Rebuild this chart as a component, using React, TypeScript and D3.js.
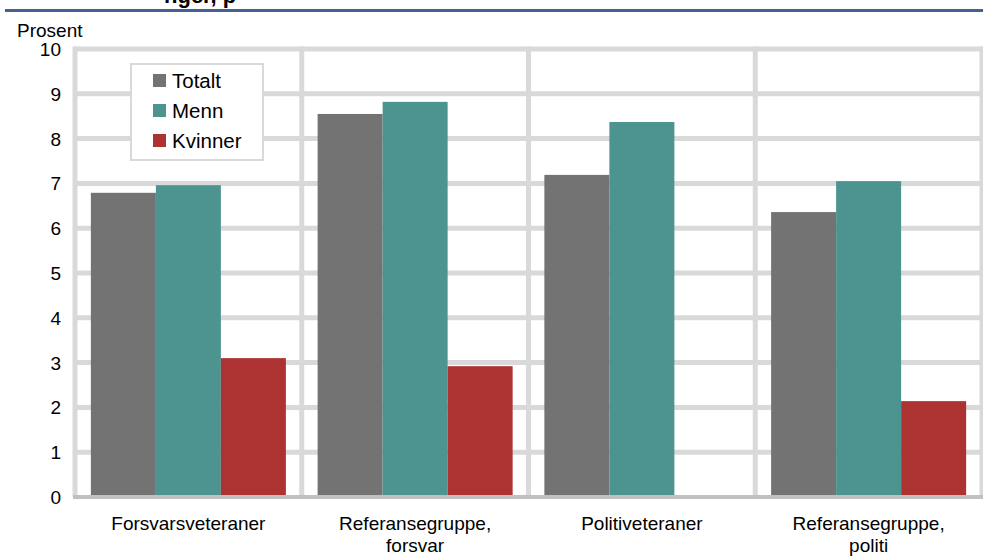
import React from "react";
import * as d3 from "d3";

const categories = [
  ["Forsvarsveteraner"],
  ["Referansegruppe,", "forsvar"],
  ["Politiveteraner"],
  ["Referansegruppe,", "politi"],
];
const seriesNames = ["Totalt", "Menn", "Kvinner"];
const totalt = [6.79, 8.55, 7.19, 6.36];
const menn = [6.96, 8.82, 8.37, 7.05];
const kvinner = [3.1, 2.92, 0, 2.14];
const yTicks = [0, 1, 2, 3, 4, 5, 6, 7, 8, 9, 10];
const colors = ["#737373", "#4d9491", "#ad3333"];

export default function App() {
  const W = 983, H = 558;
  const left = 75, right = 982, top = 49, bottom = 497;
  const keys = categories.map((c) => c.join(" "));
  const x0 = d3.scaleBand<string>().domain(keys).range([left, right]).paddingInner(0).paddingOuter(0);
  const x1 = d3.scaleBand<string>().domain(seriesNames).range([0, x0.bandwidth()]).paddingInner(0).paddingOuter(0.244);
  const y = d3.scaleLinear().domain([0, 10]).range([bottom, top]);
  const data = [totalt, menn, kvinner];
  const font = "'Liberation Sans', Arial, sans-serif";
  const grid = "#d9d9d9";
  const fs = 19;
  const boundaries = [...keys.map((k) => x0(k)!), right];

  return (
    <svg width={W} height={H} style={{ position: "absolute", left: 0, top: 0, background: "#fff" }} fontFamily={font}>
      <rect width={W} height={H} fill="#fff" />
      <text x={164} y={3} fontSize={22} fontWeight="bold" fill="#000">nger, p</text>
      <rect x={5} y={9} width={978} height={3} fill="#44618f" />
      <text x={17} y={37} fontSize={fs} fill="#000">Prosent</text>
      {yTicks.filter((t) => t > 0).map((t) => (
        <line key={"h" + t} x1={73} x2={984} y1={y(t)} y2={y(t)} stroke={grid} strokeWidth={5} />
      ))}
      {boundaries.map((bx, i) => (
        <line key={"v" + i} x1={bx} x2={bx} y1={y(10) - 2.5} y2={bottom} stroke={grid} strokeWidth={5} />
      ))}
      {keys.map((k, ci) =>
        seriesNames.map((s, si) => {
          const v = data[si][ci];
          if (!v) return null;
          return (
            <rect key={k + s} x={x0(k)! + x1(s)!} y={y(v)} width={x1.bandwidth()} height={bottom - 2 - y(v)} fill={colors[si]} />
          );
        })
      )}
      <line x1={73} x2={984} y1={bottom} y2={bottom} stroke="#c0c0c0" strokeWidth={4} />
      {yTicks.map((t) => (
        <text key={"t" + t} x={61} y={y(t) + 7} fontSize={fs} textAnchor="end" fill="#000">{t}</text>
      ))}
      {categories.map((lines, ci) => (
        <text key={"c" + ci} x={x0(keys[ci])! + x0.bandwidth() / 2} fontSize={fs} textAnchor="middle" fill="#000">
          {lines.map((l, li) => (
            <tspan key={li} x={x0(keys[ci])! + x0.bandwidth() / 2} y={530 + li * 22}>{l}</tspan>
          ))}
        </text>
      ))}
      <g>
        <rect x={131} y={64} width={132} height={96} fill="#fff" stroke={grid} strokeWidth={2} />
        {seriesNames.map((s, i) => (
          <g key={"l" + s}>
            <rect x={153} y={74 + i * 30} width={13} height={13} fill={colors[i]} />
            <text x={172} y={88 + i * 30} fontSize={20.5} fill="#000">{s}</text>
          </g>
        ))}
      </g>
    </svg>
  );
}
